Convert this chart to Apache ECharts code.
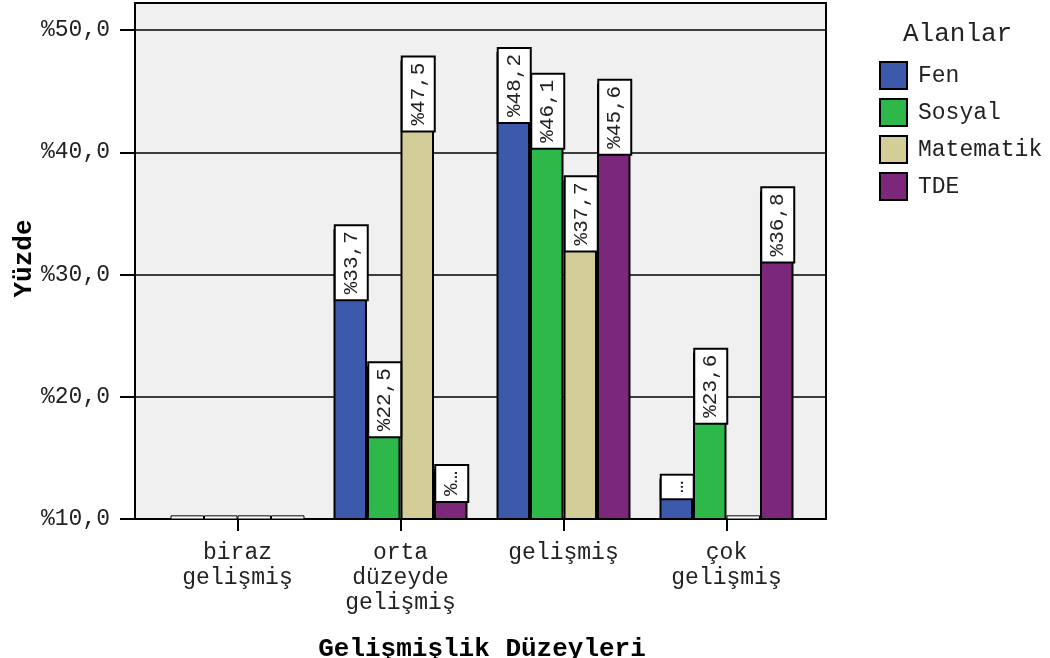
<!DOCTYPE html>
<html>
<head>
<meta charset="utf-8">
<script src="https://cdn.jsdelivr.net/npm/echarts@6/dist/echarts.min.js"></script>
<style>
  html, body { margin: 0; padding: 0; background: #fff; }
  #chart { width: 1050px; height: 658px; }
</style>
</head>
<body>
<div id="chart"></div>
<script>
// Gelişmişlik düzeylerine göre alan yüzdeleri
const categories = ["biraz\ngelişmiş", "orta\ndüzeyde\ngelişmiş", "gelişmiş", "çok\ngelişmiş"];
const seriesNames = ["Fen", "Sosyal", "Matematik", "TDE"];
const fen = [10.3, 33.7, 48.2, 13.3];
const sosyal = [10.3, 22.5, 46.1, 23.6];
const matematik = [10.3, 47.5, 37.7, 10.3];
const tde = [10.3, 14.1, 45.6, 36.8];
const yTicks = [10, 20, 30, 40, 50];

const colors = ["#3d59ab", "#2fb84a", "#d3ce98", "#7b287b"];
const font = "Liberation Mono";

const chart = echarts.init(document.getElementById("chart"));

// etiket: çubuk kısa ise kısaltılmış gösterilir
const labelText = (p) => {
  const h = p.value - 10;
  if (h < 3.5) return "…";
  if (h < 12) return "%…";
  return "%" + p.value.toFixed(1).replace(".", ",");
};

const makeData = (values) =>
  values.map((v) =>
    v - 10 < 1
      ? { value: v, itemStyle: { color: "#fff", borderWidth: 1 }, label: { show: false } }
      : v
  );

const allValues = [fen, sosyal, matematik, tde];

const option = {
  animation: false,
  backgroundColor: "#fff",
  textStyle: { fontFamily: font },
  title: {
    text: "Alanlar",
    left: 898,
    top: 16,
    textStyle: { fontFamily: font, fontSize: 26, fontWeight: "normal", color: "#222" },
  },
  legend: {
    orient: "vertical",
    left: 874,
    top: 56,
    itemWidth: 27,
    itemHeight: 27,
    itemGap: 8,
    icon: "rect",
    data: seriesNames,
    itemStyle: { borderColor: "#000", borderWidth: 2 },
    textStyle: { fontFamily: font, fontSize: 23, color: "#222", padding: [0, 0, 0, 6] },
  },
  graphic: {
    elements: [
      {
        type: "rect",
        z: -5,
        silent: true,
        shape: { x: 135, y: 3, width: 691, height: 516 },
        style: { fill: "#f0f0f0", stroke: "#000", lineWidth: 2 },
      },
    ],
  },
  grid: [
    { left: 135, right: 224, top: 30, bottom: 139, outerBoundsMode: "none" },
    { left: 156, right: 242, top: 30, bottom: 139, outerBoundsMode: "none" },
  ],
  xAxis: [
    {
      gridIndex: 0,
      type: "value",
      min: 0,
      max: 1,
      show: false,
    },
    {
      gridIndex: 1,
      type: "category",
      data: categories,
      axisLine: { show: false },
      axisTick: {
        show: true,
        alignWithLabel: true,
        length: 12,
        lineStyle: { color: "#000", width: 2 },
      },
      axisLabel: {
        interval: 0,
        margin: 21,
        fontFamily: font,
        fontSize: 23,
        lineHeight: 25,
        color: "#222",
      },
      name: "Gelişmişlik Düzeyleri",
      nameLocation: "middle",
      nameGap: 117,
      nameMoveOverlap: false,
      nameTextStyle: { fontFamily: font, fontSize: 26, fontWeight: "bold", color: "#000" },
    },
  ],
  yAxis: [
    {
      gridIndex: 0,
      type: "value",
      min: yTicks[0],
      max: yTicks[yTicks.length - 1],
      interval: 10,
      axisLine: { show: true, lineStyle: { color: "#000", width: 2 } },
      axisTick: { show: true, length: 15, lineStyle: { color: "#000", width: 2 } },
      splitLine: { show: true, lineStyle: { color: "#000", width: 1.5 } },
      axisLabel: {
        margin: 25,
        fontFamily: font,
        fontSize: 23,
        color: "#222",
        formatter: (v) => "%" + v.toFixed(1).replace(".", ","),
      },
      name: "Yüzde",
      nameLocation: "middle",
      nameGap: 98,
      nameMoveOverlap: false,
      nameTextStyle: {
        fontFamily: font,
        fontSize: 26,
        fontWeight: "bold",
        color: "#000",
        padding: [0, 0, 0, 32],
      },
    },
    {
      gridIndex: 1,
      type: "value",
      min: yTicks[0],
      max: yTicks[yTicks.length - 1],
      show: false,
      splitLine: { show: false },
    },
  ],
  series: seriesNames.map((name, i) => ({
    name: name,
    type: "bar",
    xAxisIndex: 1,
    yAxisIndex: 1,
    barGap: "0%",
    barCategoryGap: "17.8%",
    data: makeData(allValues[i]),
    itemStyle: { color: colors[i], borderColor: "#000", borderWidth: 2 },
    label: {
      show: true,
      position: "insideTop",
      distance: 0,
      rotate: 90,
      align: "right",
      verticalAlign: "middle",
      offset: [3, 1],
      formatter: labelText,
      fontFamily: font,
      fontSize: 21,
      color: "#222",
      backgroundColor: "#fff",
      borderColor: "#000",
      borderWidth: 2,
      padding: [5, 5, 5, 5],
    },
  })),
};

chart.setOption(option);
</script>
</body>
</html>
